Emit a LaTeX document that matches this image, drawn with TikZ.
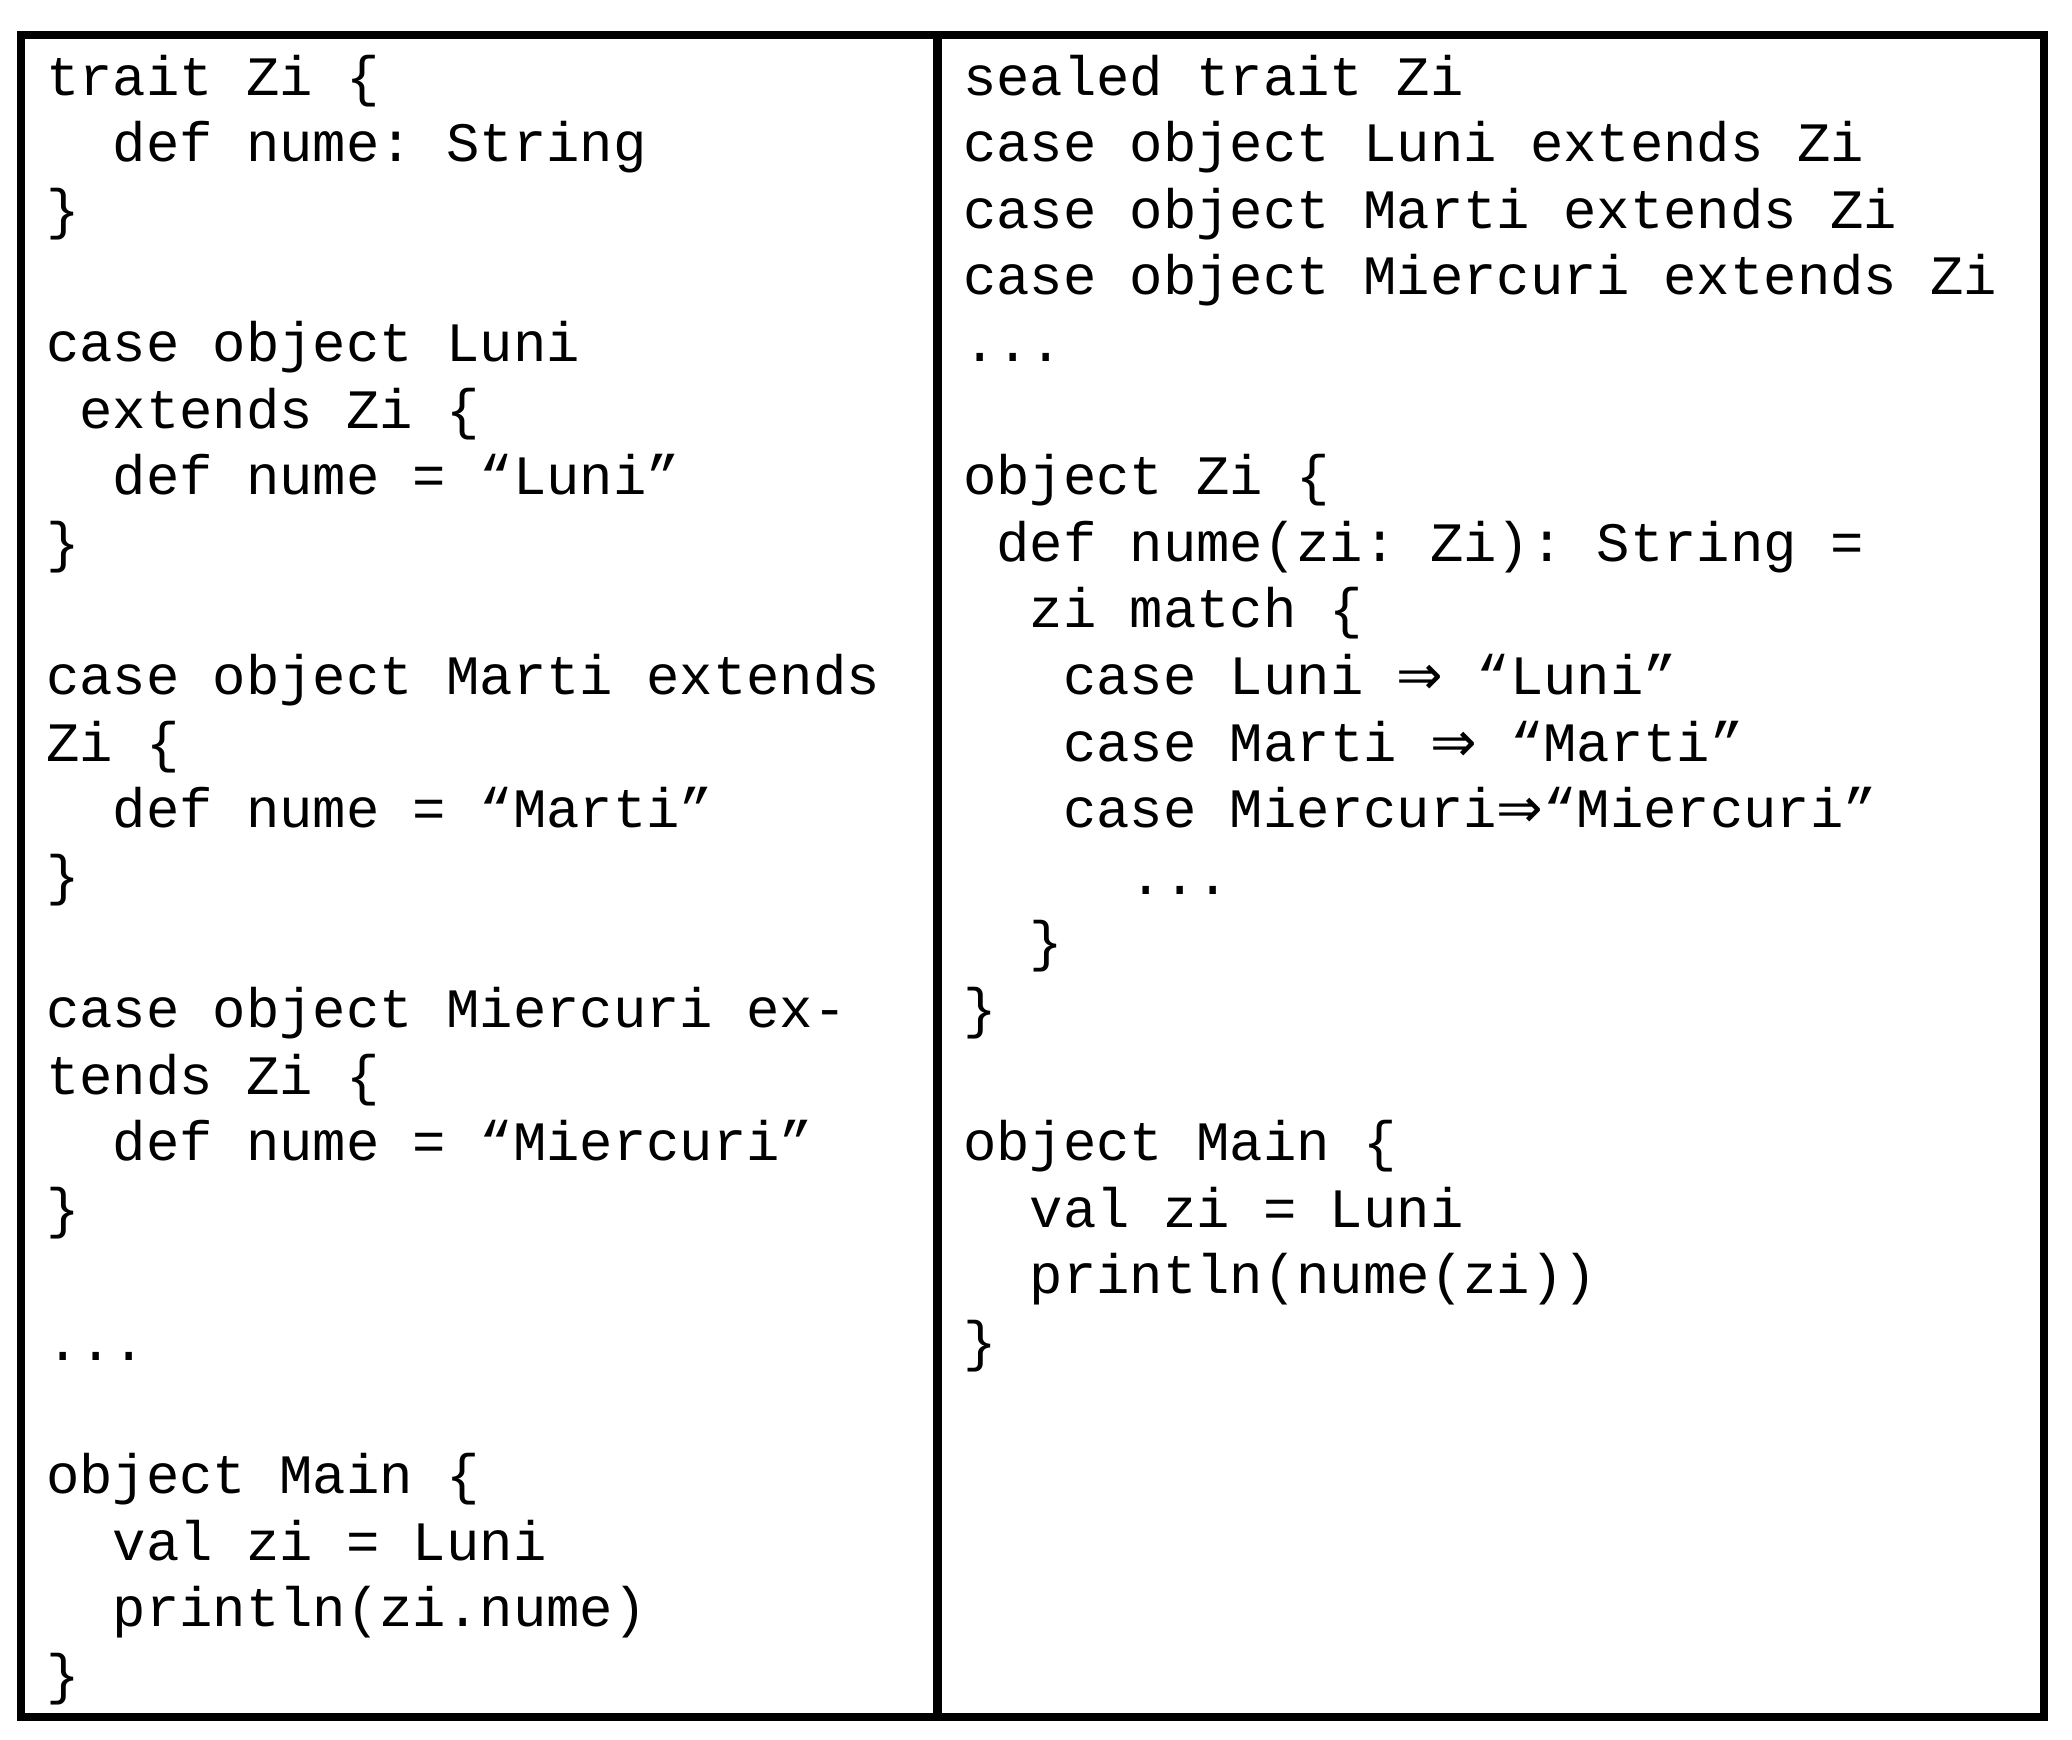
\documentclass[tikz,border=0pt]{standalone}
\usepackage{fontspec}
\setmonofont{Liberation Mono}
\newfontfamily\arrowfont{DejaVu Sans}
\newcommand\arr{{\arrowfont ⇒}}
\newcommand\ind[1]{\hphantom{#1}}
\tikzset{
  code/.style={anchor=base west, inner sep=0pt, outer sep=0pt,
    font=\ttfamily\fontsize{13.9pt}{16.7pt}\selectfont},
  frame/.style={line width=2.125pt, draw=black},
}
\newcommand\codeln[4]{\node[code] (#1) at (#2,{95+66.6*(#3-1)}) {#4};}
\begin{document}
\begin{tikzpicture}[x=0.25pt,y=-0.25pt]
\useasboundingbox (0,0) rectangle (2072,1739);
\fill[white] (0,0) rectangle (2072,1739);
\draw[frame] (21,35) rectangle (2044,1717);
\draw[frame] (937.5,35) -- (937.5,1717);
% left panel
\codeln{a1}{46}{1}{trait Zi \{}
\codeln{a2}{46}{2}{\ind{xx}def nume: String}
\codeln{a3}{46}{3}{\}}
\codeln{a5}{46}{5}{case object Luni}
\codeln{a6}{46}{6}{\ind{x}extends Zi \{}
\codeln{a7}{46}{7}{\ind{xx}def nume = “Luni”}
\codeln{a8}{46}{8}{\}}
\codeln{a10}{46}{10}{case object Marti extends}
\codeln{a11}{46}{11}{Zi \{}
\codeln{a12}{46}{12}{\ind{xx}def nume = “Marti”}
\codeln{a13}{46}{13}{\}}
\codeln{a15}{46}{15}{case object Miercuri ex-}
\codeln{a16}{46}{16}{tends Zi \{}
\codeln{a17}{46}{17}{\ind{xx}def nume = “Miercuri”}
\codeln{a18}{46}{18}{\}}
\codeln{a20}{46}{20}{...}
\codeln{a22}{46}{22}{object Main \{}
\codeln{a23}{46}{23}{\ind{xx}val zi = Luni}
\codeln{a24}{46}{24}{\ind{xx}println(zi.nume)}
\codeln{a25}{46}{25}{\}}
% right panel
\codeln{b1}{963}{1}{sealed trait Zi}
\codeln{b2}{963}{2}{case object Luni extends Zi}
\codeln{b3}{963}{3}{case object Marti extends Zi}
\codeln{b4}{963}{4}{case object Miercuri extends Zi}
\codeln{b5}{963}{5}{...}
\codeln{b7}{963}{7}{object Zi \{}
\codeln{b8}{963}{8}{\ind{x}def nume(zi: Zi): String =}
\codeln{b9}{963}{9}{\ind{xx}zi match \{}
\codeln{b10}{963}{10}{\ind{xxx}case Luni \arr{} “Luni”}
\codeln{b11}{963}{11}{\ind{xxx}case Marti \arr{} “Marti”}
\codeln{b12}{963}{12}{\ind{xxx}case Miercuri\arr“Miercuri”}
\codeln{b13}{963}{13}{\ind{xxxxx}...}
\codeln{b14}{963}{14}{\ind{xx}\}}
\codeln{b15}{963}{15}{\}}
\codeln{b17}{963}{17}{object Main \{}
\codeln{b18}{963}{18}{\ind{xx}val zi = Luni}
\codeln{b19}{963}{19}{\ind{xx}println(nume(zi))}
\codeln{b20}{963}{20}{\}}
\end{tikzpicture}
\end{document}
